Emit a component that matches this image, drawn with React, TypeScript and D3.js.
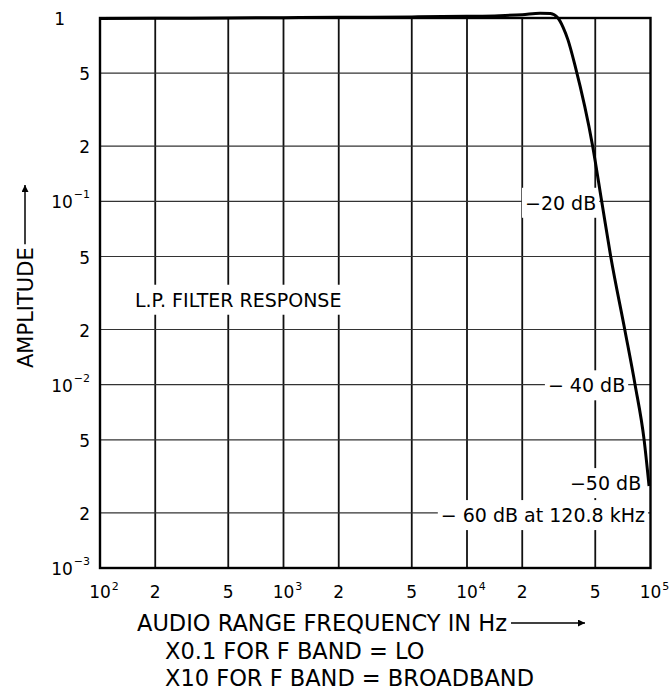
import React, { useEffect, useRef } from 'react';
import * as d3 from 'd3';

// curve (frequency in Hz, relative amplitude)
const freqHz = [100, 200, 500, 1000, 2000, 5000, 10000, 15000, 20000, 25000, 28500, 31300, 33400, 35500, 38800, 48400, 54200, 60700, 72600, 82400, 92300, 98200];
const amplitude = [0.993, 0.996, 1.0, 1.004, 1.008, 1.014, 1.022, 1.03, 1.043, 1.062, 1.058, 1.0, 0.89, 0.76, 0.55, 0.2, 0.1, 0.05, 0.0197, 0.01, 0.005, 0.0028];

const xGrid = [200, 500, 1000, 2000, 5000, 10000, 20000, 50000];
const yGrid = [0.002, 0.005, 0.01, 0.02, 0.05, 0.1, 0.2, 0.5];

const xTicks = [100, 200, 500, 1000, 2000, 5000, 10000, 20000, 50000, 100000];
const xTickMain = ['10', '2', '5', '10', '2', '5', '10', '2', '5', '10'];
const xTickExp = ['2', '', '', '3', '', '', '4', '', '', '5'];

const yTicks = [1, 0.5, 0.2, 0.1, 0.05, 0.02, 0.01, 0.005, 0.002, 0.001];
const yTickMain = ['1', '5', '2', '10', '5', '2', '10', '5', '2', '10'];
const yTickExp = ['', '', '', '\u22121', '', '', '\u22122', '', '', '\u22123'];

// annotations: text, left edge (Hz), vertical centre (amplitude)
const noteText = ['\u221220 dB', '\u2212 40 dB', '\u221250 dB', '\u2212 60 dB at 120.8 kHz', 'L.P. FILTER RESPONSE'];
const noteFreq = [20700, 27600, 36400, 7200, 155];
const noteAmp = [0.098, 0.0099, 0.0029, 0.00194, 0.029];

const FONT = '"DejaVu Sans", sans-serif';

const App: React.FC = () => {
  const ref = useRef<SVGSVGElement>(null);

  useEffect(() => {
    if (!ref.current) return;
    const svg = d3.select(ref.current);
    svg.selectAll('*').remove();

    const left = 100, right = 650.5, top = 18, bottom = 568;

    const x = d3.scaleLog().domain([100, 100000]).range([left, right]);
    const y = d3.scaleLog().domain([0.001, 1]).range([bottom, top]);

    svg.append('rect').attr('width', 672).attr('height', 692).attr('fill', '#fff');

    // grid
    svg.append('g').selectAll('line').data(xGrid).enter().append('line')
      .attr('x1', d => x(d)).attr('x2', d => x(d))
      .attr('y1', top).attr('y2', bottom)
      .attr('stroke', '#111').attr('stroke-width', 1.8);

    svg.append('g').selectAll('line').data(yGrid).enter().append('line')
      .attr('x1', left).attr('x2', right)
      .attr('y1', d => y(d)).attr('y2', d => y(d))
      .attr('stroke', '#333').attr('stroke-width', 1.2);

    // annotations with white backing
    const notes = svg.append('g');
    noteText.forEach((t, i) => {
      const g = notes.append('g');
      const txt = g.append('text')
        .attr('x', x(noteFreq[i]))
        .attr('y', y(noteAmp[i]))
        .attr('dy', '0.36em')
        .style('font-family', FONT)
        .style('font-size', '19px')
        .style('white-space', 'pre')
        .attr('fill', '#000')
        .text(t);
      const bb = (txt.node() as SVGTextElement).getBBox();
      g.insert('rect', 'text')
        .attr('x', bb.x - 3).attr('y', bb.y - 4)
        .attr('width', bb.width + 6).attr('height', bb.height + 8)
        .attr('fill', '#fff');
    });

    // frame
    svg.append('rect')
      .attr('x', left).attr('y', top)
      .attr('width', right - left).attr('height', bottom - top)
      .attr('fill', 'none').attr('stroke', '#000').attr('stroke-width', 2.4);

    // response curve
    const pts = freqHz.map((f, i) => [f, amplitude[i]] as [number, number]);
    const line = d3.line<[number, number]>()
      .x(d => x(d[0]))
      .y(d => y(d[1]))
      .curve(d3.curveMonotoneX);
    svg.append('path')
      .attr('d', line(pts) || '')
      .attr('fill', 'none')
      .attr('stroke', '#000')
      .attr('stroke-width', 3)
      .attr('stroke-linejoin', 'round');

    // x tick labels
    const xl = svg.append('g').style('font-family', FONT);
    xTicks.forEach((v, i) => {
      const main = xl.append('text')
        .attr('x', x(v)).attr('y', 598)
        .attr('text-anchor', 'middle')
        .style('font-size', '17px')
        .text(xTickMain[i]);
      if (xTickExp[i]) {
        const w = (main.node() as SVGTextElement).getComputedTextLength();
        xl.append('text')
          .attr('x', x(v) + w / 2 + 1).attr('y', 590)
          .style('font-size', '11px')
          .text(xTickExp[i]);
      }
    });

    // y tick labels
    const yl = svg.append('g').style('font-family', FONT);
    yTicks.forEach((v, i) => {
      const yy = y(v) + 1;
      if (yTickExp[i]) {
        const ex = yl.append('text')
          .attr('x', 90).attr('y', yy - 4)
          .attr('text-anchor', 'end')
          .style('font-size', '11px')
          .text(yTickExp[i]);
        const we = (ex.node() as SVGTextElement).getComputedTextLength();
        yl.append('text')
          .attr('x', 90 - we - 1).attr('y', yy)
          .attr('dy', '0.36em')
          .attr('text-anchor', 'end')
          .style('font-size', '17px')
          .text(yTickMain[i]);
      } else {
        yl.append('text')
          .attr('x', v === 1 ? 65 : 90).attr('y', yy)
          .attr('dy', '0.36em')
          .attr('text-anchor', 'end')
          .style('font-size', '17px')
          .text(yTickMain[i]);
      }
    });

    // arrowhead
    svg.append('defs').append('marker')
      .attr('id', 'arr')
      .attr('viewBox', '0 0 10 10')
      .attr('refX', 10).attr('refY', 5)
      .attr('markerWidth', 9).attr('markerHeight', 7)
      .attr('markerUnits', 'userSpaceOnUse')
      .attr('orient', 'auto')
      .append('path').attr('d', 'M0,0L10,5L0,10Z').attr('fill', '#000');

    // y title
    const yTitle = svg.append('text')
      .attr('transform', 'translate(33,368) rotate(-90)')
      .style('font-family', FONT)
      .style('font-size', '21px')
      .text('AMPLITUDE');
    const yLen = (yTitle.node() as SVGTextElement).getComputedTextLength();
    svg.append('line')
      .attr('x1', 25).attr('x2', 25)
      .attr('y1', 368 - yLen - 3).attr('y2', 185)
      .attr('stroke', '#000').attr('stroke-width', 1.5)
      .attr('marker-end', 'url(#arr)');

    // x title and notes
    const xTitle = svg.append('text')
      .attr('x', 137).attr('y', 631)
      .style('font-family', FONT)
      .style('font-size', '22.5px')
      .text('AUDIO RANGE FREQUENCY IN Hz');
    const xLen = (xTitle.node() as SVGTextElement).getComputedTextLength();
    svg.append('line')
      .attr('x1', 137 + xLen + 4).attr('x2', 137 + xLen + 78)
      .attr('y1', 623).attr('y2', 623)
      .attr('stroke', '#000').attr('stroke-width', 1.5)
      .attr('marker-end', 'url(#arr)');

    svg.append('text')
      .attr('x', 165).attr('y', 659)
      .style('font-family', FONT)
      .style('font-size', '22.5px')
      .style('white-space', 'pre')
      .text('X0.1 FOR F BAND = LO');
    svg.append('text')
      .attr('x', 165).attr('y', 686)
      .style('font-family', FONT)
      .style('font-size', '22.5px')
      .style('white-space', 'pre')
      .text('X10 FOR F BAND = BROADBAND');
  }, []);

  return (
    <svg
      ref={ref}
      width={672}
      height={692}
      style={{ position: 'absolute', left: 0, top: 0, display: 'block' }}
    />
  );
};

export default App;
